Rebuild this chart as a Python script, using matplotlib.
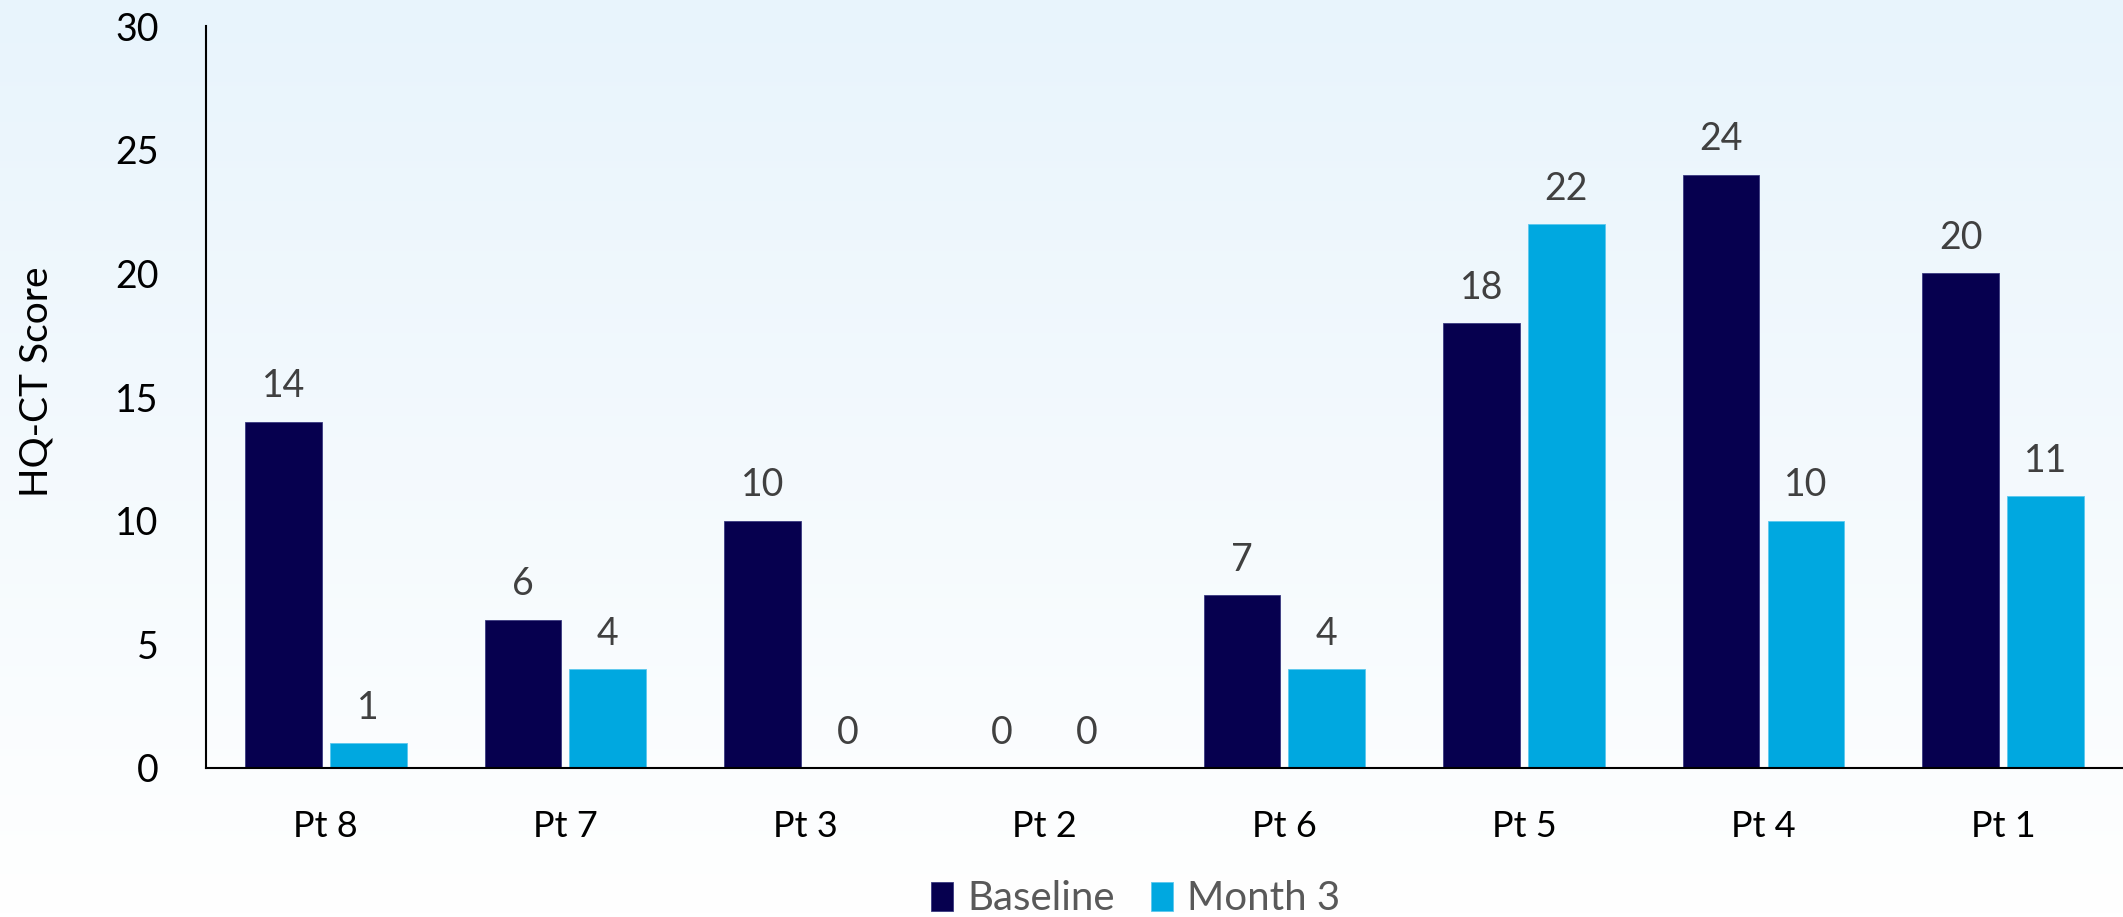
import numpy as np
import matplotlib.pyplot as plt
from matplotlib.colors import LinearSegmentedColormap

plt.rcParams['font.family'] = ['Lato', 'DejaVu Sans']

patients = ['Pt 8', 'Pt 7', 'Pt 3', 'Pt 2', 'Pt 6', 'Pt 5', 'Pt 4', 'Pt 1']
baseline = [14, 6, 10, 0, 7, 18, 24, 20]
month3 = [1, 4, 0, 0, 4, 22, 10, 11]

navy = '#06004F'
cyan = '#00A8E0'

fig = plt.figure(figsize=(21.23, 9.17), dpi=100)

# soft blue-to-white background behind everything
bg = fig.add_axes([0, 0, 1, 1], zorder=-10)
grad = np.linspace(0, 1, 256).reshape(-1, 1)
cmap = LinearSegmentedColormap.from_list('bg', ['#E8F4FC', '#FFFFFF'])
bg.imshow(grad, aspect='auto', cmap=cmap, extent=[0, 1, 0, 1])
bg.axis('off')

ax = fig.add_axes([0.097, 0.1625, 0.903, 0.809])
ax.patch.set_alpha(0)

x = np.arange(len(patients))
w = 0.32
off = 0.177
b1 = ax.bar(x - off, baseline, w, color=navy, edgecolor='#3a3a80', linewidth=0.6, label='Baseline')
b2 = ax.bar(x + off, month3, w, color=cyan, edgecolor='#5cc8ee', linewidth=0.6, label='Month 3')

for bars, vals in ((b1, baseline), (b2, month3)):
    for r, v in zip(bars, vals):
        ax.text(r.get_x() + r.get_width() / 2, v + 0.7, str(v),
                ha='center', va='bottom', fontsize=27, color='#404040')

ax.set_xlim(-0.5, 7.5)
ax.set_ylim(0, 30)
ax.set_yticks(np.arange(0, 31, 5))
ax.set_xticks(x)
ax.set_xticklabels(patients)
ax.tick_params(axis='y', length=0, pad=34, labelsize=27)
ax.tick_params(axis='x', length=0, pad=30, labelsize=26)
for s in ('top', 'right'):
    ax.spines[s].set_visible(False)
ax.spines['left'].set_linewidth(1.5)
ax.spines['bottom'].set_linewidth(1.5)

ax.set_ylabel('HQ-CT Score', fontsize=28)
ax.yaxis.set_label_coords(-0.079, 0.52)

fig.legend(handles=[b1, b2], loc='lower center', bbox_to_anchor=(0.535, -0.04),
           ncol=2, frameon=False, fontsize=29, labelcolor='#595959',
           handlelength=0.55, handleheight=0.75, handletextpad=0.35, columnspacing=0.9)

fig.savefig('out.png', dpi=100)
